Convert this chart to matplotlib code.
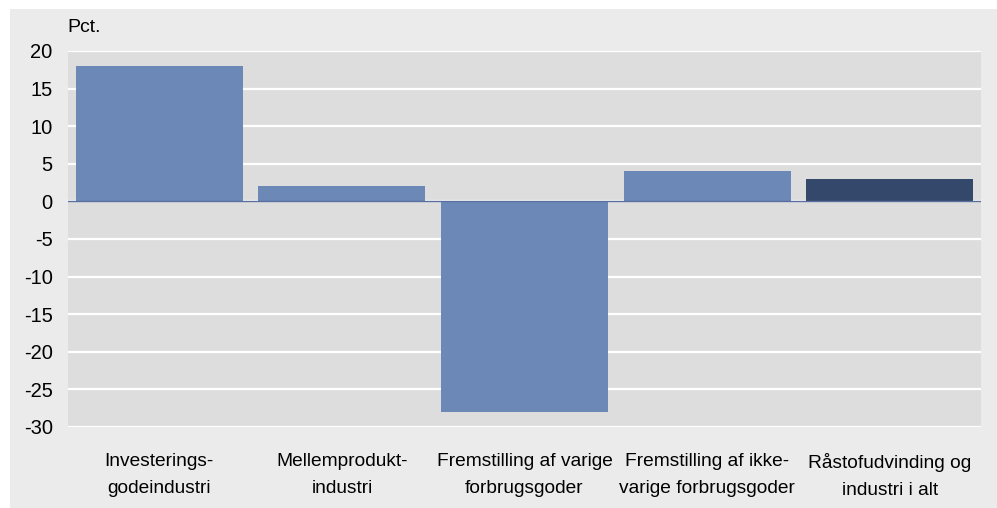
import matplotlib.pyplot as plt
from matplotlib.patches import Rectangle
from matplotlib import font_manager

names = {f.name for f in font_manager.fontManager.ttflist}
if "Liberation Sans Narrow" in names:
    plt.rcParams['font.family'] = ['Liberation Sans Narrow', 'DejaVu Sans']
else:
    plt.rcParams['font.family'] = ['Liberation Sans', 'DejaVu Sans']
plt.rcParams['axes.unicode_minus'] = False

categories = ["Investerings-\ngodeindustri", "Mellemprodukt-\nindustri",
              "Fremstilling af varige\nforbrugsgoder", "Fremstilling af ikke-\nvarige forbrugsgoder",
              "Råstofudvinding og\nindustri i alt"]
values = [18, 2, -28, 4, 3]
colors = ["#6b88b6", "#6b88b6", "#6b88b6", "#6b88b6", "#34486c"]
yticks = [20, 15, 10, 5, 0, -5, -10, -15, -20, -25, -30]

fig = plt.figure(figsize=(9.97, 5.08), dpi=100)
fig.patch.set_facecolor("white")
fig.patches.append(Rectangle((10 / 997, 0), 1, 1 - 9 / 508, transform=fig.transFigure,
                             facecolor="#ebebeb", edgecolor="none", zorder=-10))

ax = fig.add_axes([68 / 997, 1 - 427 / 508, (981 - 68) / 997, (427 - 51) / 508])
ax.set_facecolor("#dddddd")
x = range(len(values))
ax.bar(x, values, width=0.915, color=colors, zorder=3)
ax.axhline(0, color="#5a6f9e", lw=1, zorder=4)

ax.set_ylim(-30, 20)
ax.set_xlim(-0.5, len(values) - 0.5)
ax.set_yticks(yticks)
ax.set_xticks(list(x))
ax.set_xticklabels(categories, linespacing=1.75)
for v in yticks:
    ax.axhline(v, color="white", lw=1.6, zorder=1)
ax.tick_params(axis="y", length=0, pad=11, labelsize=14.5)
ax.tick_params(axis="x", length=0, pad=19, labelsize=13.8)
for s in ax.spines.values():
    s.set_visible(False)

fig.text(67 / 997, 1 - 28 / 508, "Pct.", fontsize=14, va="center", ha="left")

fig.savefig("out.png", dpi=100)
